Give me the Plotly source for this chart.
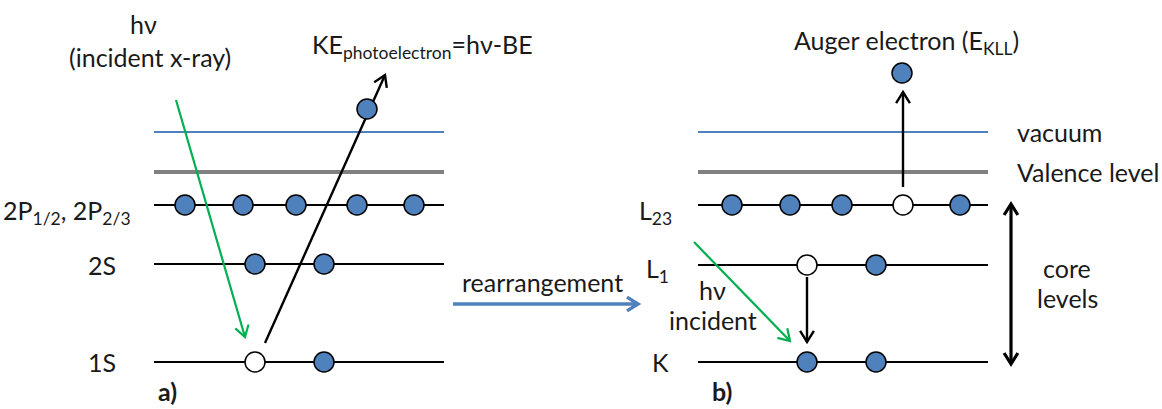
import math

import plotly.graph_objects as go

# canvas in pixels, y grows downward
W, H = 1162, 409

BLUE = "#4F81BD"
GREEN = "#00B050"
GRAY = "#808080"
INK = "#1a1a1a"
FONT = "Lato"

# level heights
vacuum_y = 132
valence_y = 172
level_y_a = {"2P": 205, "2S": 264, "1S": 362}
level_y_b = {"L23": 205, "L1": 265, "K": 362}

# horizontal extent of each panel's levels
span_a = (154, 444)
span_b = (698, 988)

# electrons: filled and empty (holes)
filled_a_x = [185, 243, 296, 357, 414, 255, 324, 324, 367]
filled_a_y = [205, 205, 205, 205, 205, 264, 264, 362, 109]
hole_a_x = [255]
hole_a_y = [362]

filled_b_x = [732, 790, 842, 960, 876, 807, 876, 902]
filled_b_y = [205, 205, 205, 205, 265, 362, 362, 73]
hole_b_x = [903, 807]
hole_b_y = [205, 265]

# arrows: (x0, y0, x1, y1, colour, width, heads)
arrows = [
    (176, 100, 245, 337, GREEN, 2.2, "end"),
    (265, 343, 385, 75, "black", 2.4, "end"),
    (807, 277, 807, 342, "black", 2.4, "end"),
    (903, 187, 903, 92, "black", 2.4, "end"),
    (694, 242, 790, 341, GREEN, 2.2, "end"),
    (453, 304, 638, 304, BLUE, 3.5, "end"),
    (1011, 204, 1011, 364, "black", 3.2, "both"),
]


def v_head(x0, y0, x1, y1, length=13, angle=32):
    dx, dy = x1 - x0, y1 - y0
    d = math.hypot(dx, dy)
    ux, uy = dx / d, dy / d
    xs, ys = [], []
    for s in (1, -1):
        a = math.radians(angle) * s
        rx = ux * math.cos(a) - uy * math.sin(a)
        ry = ux * math.sin(a) + uy * math.cos(a)
        xs.append(x1 - rx * length)
        ys.append(y1 - ry * length)
    return [xs[0], x1, xs[1]], [ys[0], y1, ys[1]]


fig = go.Figure()


def seg(xs, ys, color, width):
    fig.add_trace(go.Scatter(x=xs, y=ys, mode="lines",
                             line=dict(color=color, width=width),
                             hoverinfo="skip", showlegend=False))


for span in (span_a, span_b):
    seg(list(span), [vacuum_y, vacuum_y], BLUE, 2)
    seg(list(span), [valence_y, valence_y], GRAY, 4)
for y in level_y_a.values():
    seg(list(span_a), [y, y], "black", 1.8)
for y in level_y_b.values():
    seg(list(span_b), [y, y], "black", 1.8)

for x0, y0, x1, y1, col, w, heads in arrows:
    seg([x0, x1], [y0, y1], col, w)
    hx, hy = v_head(x0, y0, x1, y1)
    seg(hx, hy, col, w)
    if heads == "both":
        hx, hy = v_head(x1, y1, x0, y0)
        seg(hx, hy, col, w)

fig.add_trace(go.Scatter(
    x=filled_a_x + filled_b_x, y=filled_a_y + filled_b_y, mode="markers",
    marker=dict(size=20, color=BLUE, line=dict(color="black", width=1.5)),
    hoverinfo="skip", showlegend=False))
fig.add_trace(go.Scatter(
    x=hole_a_x + hole_b_x, y=hole_a_y + hole_b_y, mode="markers",
    marker=dict(size=20, color="white", line=dict(color="black", width=1.5)),
    hoverinfo="skip", showlegend=False))

# text labels: (x, y, text, xanchor, yanchor, bold)
labels = [
    (143, 24, "hν", "center", "middle", False),
    (150, 57, "(incident x-ray)", "center", "middle", False),
    (310, 46, "KE<sub>photoelectron</sub>=hν-BE", "left", "middle", False),
    (133, 212, "2P<sub>1/2</sub>, 2P<sub>2/3</sub>", "right", "middle", False),
    (102, 265, "2S", "center", "middle", False),
    (102, 362, "1S", "center", "middle", False),
    (167, 408, "a)", "center", "bottom", True),
    (542, 282, "rearrangement", "center", "middle", False),
    (674, 212, "L<sub>23</sub>", "right", "middle", False),
    (671, 270, "L<sub>1</sub>", "right", "middle", False),
    (660, 362, "K", "center", "middle", False),
    (697, 290, "hν", "left", "middle", False),
    (759, 320, "incident", "right", "middle", False),
    (722, 408, "b)", "center", "bottom", True),
    (906, 42, "Auger electron (E<sub>KLL</sub>)", "center", "middle", False),
    (1015, 132, "vacuum", "left", "middle", False),
    (1015, 172, "Valence level", "left", "middle", False),
    (1067, 268, "core", "center", "middle", False),
    (1067, 298, "levels", "center", "middle", False),
]
for x, y, t, xa, ya, bold in labels:
    fig.add_annotation(x=x, y=y, text=f"<b>{t}</b>" if bold else t,
                       xanchor=xa, yanchor=ya, showarrow=False,
                       font=dict(family=FONT, size=25, color=INK))

fig.update_xaxes(range=[0, W], visible=False, fixedrange=True)
fig.update_yaxes(range=[H, 0], visible=False, fixedrange=True)
fig.update_layout(width=W, height=H, margin=dict(l=0, r=0, t=0, b=0),
                  plot_bgcolor="white", paper_bgcolor="white",
                  showlegend=False)

fig.write_html("out.html", config={"displayModeBar": False},
               post_script="document.body.style.margin='0';")
